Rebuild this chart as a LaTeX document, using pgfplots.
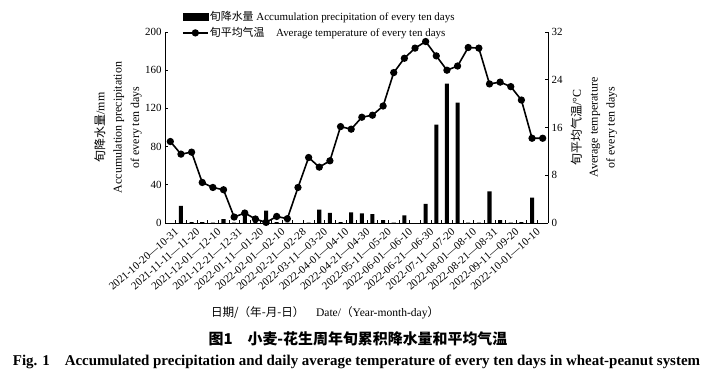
\documentclass[border=0pt]{standalone}
\usepackage{fontspec}
\setmainfont{Liberation Serif}
\newfontfamily\cjk{Noto Sans CJK SC}
\usepackage{pgfplots}
\pgfplotsset{compat=1.18}
\begin{document}
\begin{tikzpicture}
\pgfplotsset{
 myaxis/.style={
  scale only axis, width=383bp, height=191bp,
  at={(165bp,156bp)}, anchor=south west,
  xmin=-0.5, xmax=35.5,
  tick align=inside, major tick length=3bp, minor tick length=3bp,
  tick style={black, line width=0.6bp},
  axis line style={-, line width=0.7bp},
  font=\fontsize{11}{13}\selectfont,
  /pgf/number format/assume math mode=true,
 }}
\begin{axis}[myaxis,
  ymin=0, ymax=200, ytick={0,40,...,200},
  axis x line*=bottom, axis y line*=left,
  xtick={0,2,...,34},
  xticklabels={{2021-10-20—10-31},{2021-11-11—11-20},{2021-12-01—12-10},{2021-12-21—12-31},{2022-01-11—01-20},{2022-02-01—02-10},{2022-02-21—02-28},{2022-03-11—03-20},{2022-04-01—04-10},{2022-04-21—04-30},{2022-05-11—05-20},{2022-06-01—06-10},{2022-06-21—06-30},{2022-07-11—07-20},{2022-08-01—08-10},{2022-08-21—08-31},{2022-09-11—09-20},{2022-10-01—10-10}},
  major x tick style={draw=none},
  minor xtick={0.5,1.5,...,34.5},
  xticklabel style={rotate=41, anchor=north east, font=\fontsize{11}{13}\selectfont, inner sep=1bp, yshift=-5bp, xshift=1bp},
  ylabel={{\cjk 旬降水量}/mm\\Accumulation precipitation\\of every ten days},
  ylabel style={at={(axis description cs:-0.1227,0.5)}, anchor=center, align=center, font=\fontsize{12}{17.5}\selectfont},
  xlabel={{\cjk 日期/（年-月-日）}\quad Date/{\cjk （}Year-month-day{\cjk ）}},
  xlabel style={at={(axis description cs:0.418,-0.47)}, anchor=center, font=\fontsize{11.6}{14}\selectfont},
]
\addplot[ybar, bar width=0.38, fill=black, draw=none] coordinates {
(0,0) (1,18) (2,1) (3,1) (4,0.3) (5,4) (6,0.5) (7,8) (8,1.5) (9,13)
(10,1) (11,0.5) (12,0) (13,0.3) (14,14) (15,10.5) (16,1) (17,11) (18,10) (19,9.3)
(20,3) (21,0.5) (22,8) (23,0) (24,20) (25,103) (26,146) (27,126) (28,0.3) (29,0.5)
(30,33) (31,3) (32,0.3) (33,1) (34,26.5) (35,0)};
\end{axis}
\begin{axis}[myaxis,
  ymin=0, ymax=32, ytick={0,8,...,32},
  axis y line*=right, axis x line=none,
  ylabel={{\cjk 旬平均气温}/°C\\Average temperature\\of every ten days},
  ylabel style={at={(axis description cs:1.1201,0.5)}, anchor=center, align=center, font=\fontsize{12}{17}\selectfont},
  legend style={at={(axis description cs:0.044,1.115)}, anchor=north west, draw=none, fill=none, inner sep=0pt, row sep=3bp, font=\fontsize{11}{13}\selectfont, nodes={inner sep=1.2bp}},
  legend cell align=left,
]
\addlegendimage{legend image code/.code={\fill[black] (0bp,-3.5bp) rectangle (25bp,3.5bp);}}
\addlegendentry{{\cjk 旬降水量} Accumulation precipitation of every ten days}
\addplot[black, line width=1.6bp, mark=*, mark size=2.8bp,
  legend image code/.code={\draw[black, line width=1.6bp] (0bp,0bp)--(25bp,0bp); \fill[black] (12.5bp,0bp) circle (2.8bp);}] coordinates {
(0,13.65) (1,11.54) (2,11.87) (3,6.79) (4,5.95) (5,5.57) (6,1.0) (7,1.67) (8,0.67) (9,0.1)
(10,1.1) (11,0.72) (12,5.95) (13,10.97) (14,9.36) (15,10.42) (16,16.15) (17,15.72) (18,17.72) (19,18.06)
(20,19.6) (21,25.2) (22,27.6) (23,29.3) (24,30.4) (25,28.0) (26,25.6) (27,26.3) (28,29.4) (29,29.3)
(30,23.3) (31,23.6) (32,22.85) (33,20.6) (34,14.2) (35,14.2)};
\addlegendentry{{\cjk 旬平均气温}\hspace{0.8em} Average temperature of every ten days}
\end{axis}
\node[font=\cjk\bfseries\fontsize{15}{17}\selectfont] at (358bp,40bp) {图1\quad 小麦-花生周年旬累积降水量和平均气温};
\node[font=\bfseries\fontsize{15}{17}\selectfont] at (356.5bp,17bp) {Fig. 1\quad Accumulated precipitation and daily average temperature of every ten days in wheat-peanut system};
\pgfresetboundingbox
\useasboundingbox (0,0) rectangle (713bp,379bp);
\end{tikzpicture}
\end{document}
